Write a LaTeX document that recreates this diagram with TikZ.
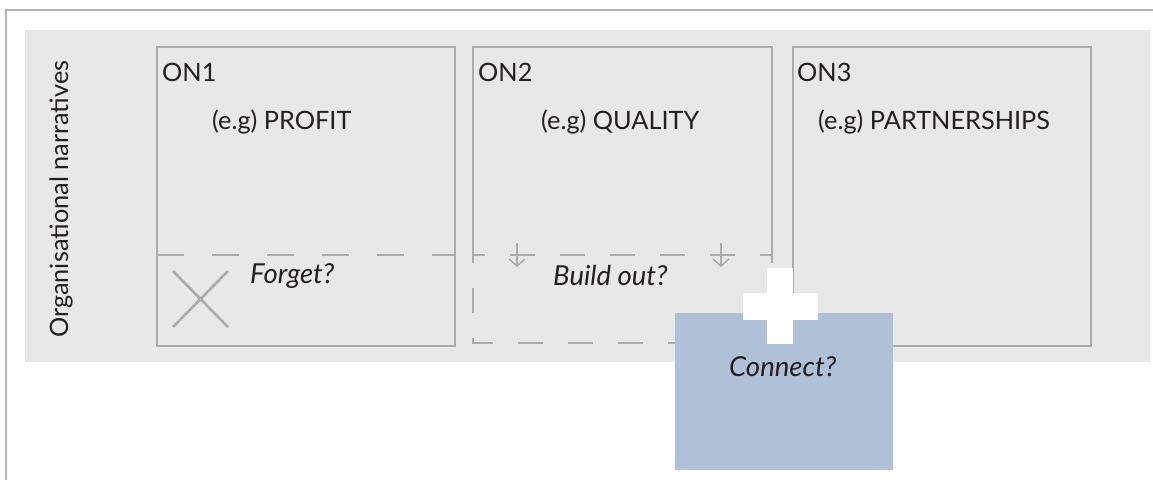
\documentclass[tikz,border=0pt]{standalone}
\usepackage{fontspec}
\setmainfont{Lato}
\usetikzlibrary{arrows.meta}
\definecolor{bandgray}{HTML}{E8E8E8}
\definecolor{linegray}{HTML}{ABABAB}
\definecolor{framegray}{HTML}{B4B4B4}
\definecolor{paleblue}{HTML}{AFC0D7}
\definecolor{inkdark}{HTML}{231F20}

\begin{document}
\begin{tikzpicture}[x=1pt,y=-1pt,
  boxframe/.style={draw=linegray, line width=1.8pt},
  region/.style={inner sep=0pt, outer sep=0pt, anchor=north west},
  txt/.style={inner sep=0pt, anchor=base west, text=inkdark, font=\fontsize{25.3}{30}\selectfont},
  query/.style={txt, font=\fontsize{27.5}{32}\selectfont\itshape},
  cutline/.style={draw=linegray, line width=1.8pt, dash pattern=on 27pt off 28pt},
  buildcut/.style={draw=linegray, line width=1.8pt, dash pattern=on 25pt off 25pt},
  growarrow/.style={draw=linegray, line width=1.5pt, -{Straight Barb[length=7pt, width=16pt]}},
  plusbar/.style={fill=white, inner sep=0pt, outer sep=0pt},
]
\useasboundingbox (0,0) rectangle (1153,480);
\fill[white] (0,0) rectangle (1153,480);
\draw[framegray, line width=1.2pt] (6,480) -- (6,10) -- (1153,10);

% grey band holding the narratives
\node[region, fill=bandgray, minimum width=1125pt, minimum height=332pt] (band) at (25,30) {};
\node[txt, rotate=90] (side) at (68,338) {Organisational narratives};

% ON1 with the part to forget
\node[region, boxframe, minimum width=298pt, minimum height=299pt] (on1) at (157,47) {};
\draw[cutline] (157,255) -- (455,255);
\draw[linegray, line width=2.6pt] (173,271) -- (228,327) (173,327) -- (228,271);
\node[txt] (on1name) at (162,81) {ON1};
\node[txt] (on1eg) at (212,129) {(e.g) PROFIT};
\node[query] (forget) at (250,283) {Forget?};

% ON2 with the part to build out
\node[region, minimum width=299pt, minimum height=208pt] (on2) at (473,47) {};
\draw[boxframe] (on2.south west) -- (on2.north west) -- (on2.north east) -- (on2.south east);
\node[region, minimum width=299pt, minimum height=88pt] (build) at (473,255) {};
\draw[buildcut, dash phase=13pt] (build.north west) -- (build.north east);
\draw[buildcut, dash phase=17pt] (build.north west) -- (build.south west) -- (build.south east);
\draw[buildcut, dash phase=17pt] (build.north east) -- (build.south east);
\draw[growarrow] (517,243) -- (517,267);
\draw[growarrow] (721,243) -- (721,267);
\node[txt] (on2name) at (478,81) {ON2};
\node[txt] (on2eg) at (541,129) {(e.g) QUALITY};
\node[query] (buildout) at (553,285) {Build out?};

% ON3
\node[region, boxframe, minimum width=298pt, minimum height=299pt] (on3) at (793,47) {};
\node[txt] (on3name) at (797,81) {ON3};
\node[txt] (on3eg) at (818,129) {(e.g) PARTNERSHIPS};

% the connecting block with its plus sign
\node[region, fill=paleblue, minimum width=218pt, minimum height=157pt] (connect) at (675,313) {};
\node[plusbar, minimum width=26pt, minimum height=76pt] (plusv) at (780,306) {};
\node[plusbar, minimum width=75pt, minimum height=27pt] (plush) at (780,306) {};
\node[query] (connecttext) at (729,376) {Connect?};
\end{tikzpicture}
\end{document}
